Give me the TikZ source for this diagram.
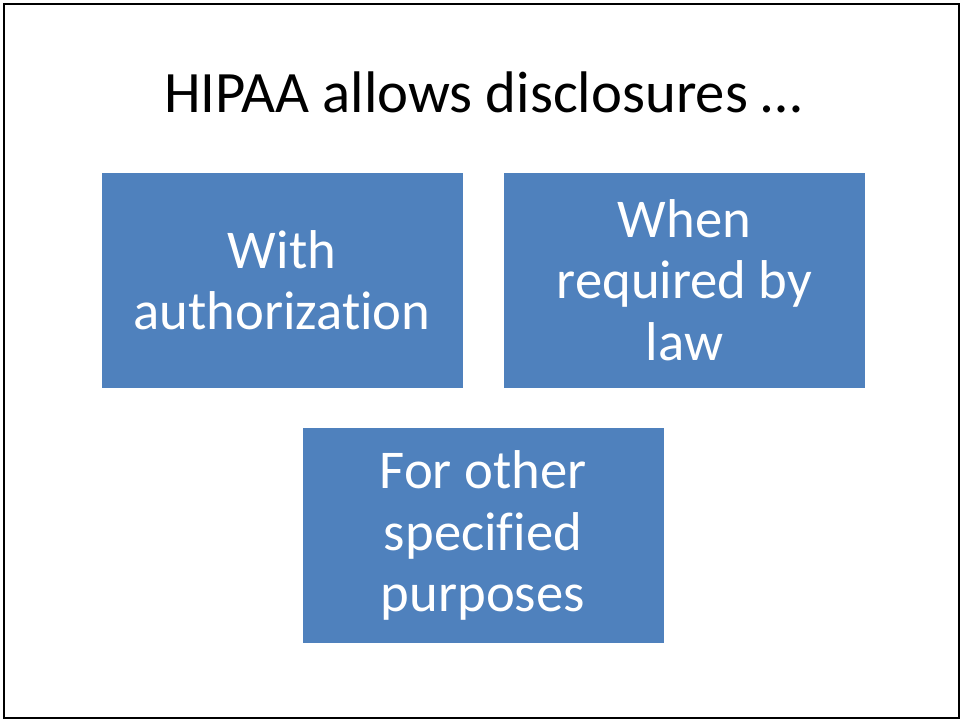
\documentclass[tikz,border=0pt]{standalone}
\usepackage{fontspec}
\setmainfont[Ligatures=NoCommon]{Carlito}
\usepackage{tikz}
\usetikzlibrary{positioning}
\definecolor{slideblue}{HTML}{4F81BD}
\tikzset{
  heading/.style = {font=\fontsize{44}{53}\selectfont, text=black, anchor=base},
  choice/.style  = {fill=slideblue, draw=white, thin, rectangle, align=center,
                   text=white, font=\fontsize{41}{46}\selectfont, inner sep=0pt,
                   minimum width=271.5pt, minimum height=162pt}
}

\begin{document}
\begin{tikzpicture}[x=0.75pt,y=-0.75pt]
\useasboundingbox (0,0) rectangle (961,721);
\draw[line width=1.5pt] (4,4) rectangle (959,718);
\node[heading] (title) at (483,112) {HIPAA allows disclosures …};
\node[choice] (auth) at (282,280) {With\\authorization};
\node[choice, right=30pt of auth] (law) {When\\required by\\law};
\node[choice] (other) at (483,535.5) {For other\\specified\\purposes};
\end{tikzpicture}
\end{document}
